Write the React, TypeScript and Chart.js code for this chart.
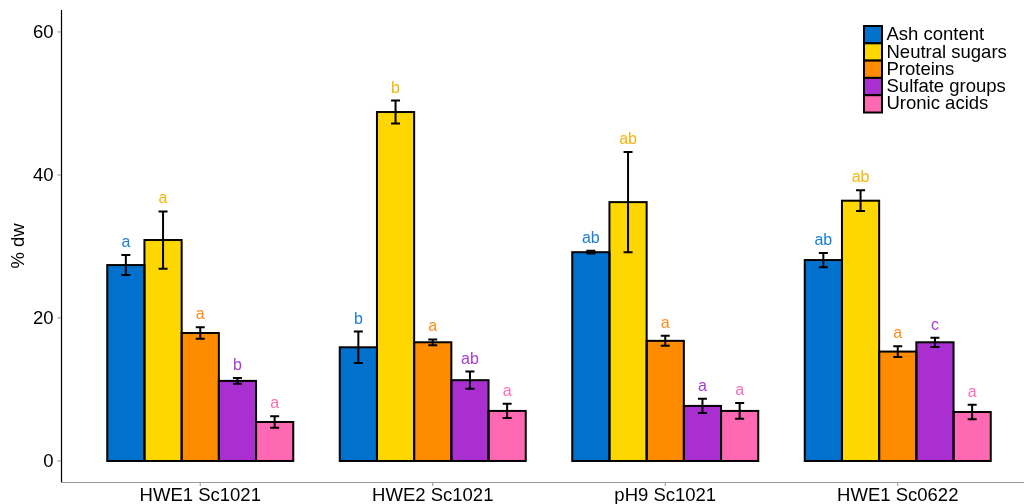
import React, { useEffect, useRef } from "react";
import { Chart, registerables } from "chart.js";

Chart.register(...registerables);

const categories = ["HWE1 Sc1021", "HWE2 Sc1021", "pH9 Sc1021", "HWE1 Sc0622"];
const seriesNames = ["Ash content", "Neutral sugars", "Proteins", "Sulfate groups", "Uronic acids"];

const ashValues = [27.4, 15.9, 29.2, 28.1];
const ashErrors = [1.4, 2.2, 0.2, 1.0];
const ashLetters = ["a", "b", "ab", "ab"];

const neutralValues = [30.9, 48.8, 36.2, 36.4];
const neutralErrors = [4.0, 1.6, 7.0, 1.45];
const neutralLetters = ["a", "b", "ab", "ab"];

const proteinValues = [17.9, 16.6, 16.8, 15.3];
const proteinErrors = [0.8, 0.4, 0.7, 0.75];
const proteinLetters = ["a", "a", "a", "a"];

const sulfateValues = [11.2, 11.3, 7.7, 16.6];
const sulfateErrors = [0.4, 1.2, 1.0, 0.65];
const sulfateLetters = ["b", "ab", "a", "c"];

const uronicValues = [5.45, 7.0, 7.0, 6.85];
const uronicErrors = [0.8, 1.0, 1.1, 1.0];
const uronicLetters = ["a", "a", "a", "a"];

const yTicks = [0, 20, 40, 60];

const barColors = ["#0072CE", "#FFD700", "#FF8C00", "#AA2FD0", "#FF69B4"];
const letterColors = ["#1A7FD8", "#F5B50A", "#FF8C1A", "#A83AD6", "#FF6EB4"];

const FONT = "'Liberation Sans', Arial, Helvetica, sans-serif";

export default function App() {
  const canvasRef = useRef<HTMLCanvasElement | null>(null);

  useEffect(() => {
    const canvas = canvasRef.current;
    if (!canvas) return;

    const values = [ashValues, neutralValues, proteinValues, sulfateValues, uronicValues];
    const errors = [ashErrors, neutralErrors, proteinErrors, sulfateErrors, uronicErrors];
    const letters = [ashLetters, neutralLetters, proteinLetters, sulfateLetters, uronicLetters];

    const overlay = {
      id: "overlay",
      afterDatasetsDraw(chart: any) {
        const ctx = chart.ctx;
        const yScale = chart.scales.y;
        const xScale = chart.scales.x;
        const area = chart.chartArea;
        ctx.save();
        // y axis line
        ctx.strokeStyle = "#000000";
        ctx.lineWidth = 1.2;
        ctx.beginPath();
        ctx.moveTo(61.5, area.top);
        ctx.lineTo(61.5, area.bottom + 0.5);
        ctx.stroke();
        // x axis line
        ctx.strokeStyle = "#9a9a9a";
        ctx.lineWidth = 1.1;
        ctx.beginPath();
        ctx.moveTo(61, area.bottom + 0.5);
        ctx.lineTo(chart.width, area.bottom + 0.5);
        ctx.stroke();
        // y ticks + labels
        ctx.font = `18.5px ${FONT}`;
        ctx.textAlign = "right";
        ctx.textBaseline = "middle";
        yTicks.forEach((t) => {
          const py = yScale.getPixelForValue(t);
          ctx.strokeStyle = "#9a9a9a";
          ctx.beginPath();
          ctx.moveTo(57.5, py);
          ctx.lineTo(61, py);
          ctx.stroke();
          ctx.fillStyle = "#000000";
          ctx.fillText(String(t), 53.5, py + 0.5);
        });
        // x ticks
        ctx.strokeStyle = "#9a9a9a";
        categories.forEach((_c, i) => {
          const px = xScale.getPixelForValue(i);
          ctx.beginPath();
          ctx.moveTo(px, area.bottom + 0.5);
          ctx.lineTo(px, area.bottom + 4);
          ctx.stroke();
        });

        // bar outlines
        ctx.strokeStyle = "#000000";
        ctx.lineWidth = 2;
        chart.data.datasets.forEach((_ds: any, di: number) => {
          const meta = chart.getDatasetMeta(di);
          meta.data.forEach((el: any) => {
            const p = el.getProps(["x", "y", "base", "width"], true);
            ctx.strokeRect(p.x - p.width / 2, p.y, p.width, p.base - p.y);
          });
        });

        // error bars + letters
        chart.data.datasets.forEach((_ds: any, di: number) => {
          const meta = chart.getDatasetMeta(di);
          meta.data.forEach((el: any, i: number) => {
            const p = el.getProps(["x"], true);
            const v = values[di][i];
            const e = errors[di][i];
            const yTop = yScale.getPixelForValue(v + e);
            const yBot = yScale.getPixelForValue(v - e);
            const cap = 4.5;
            ctx.strokeStyle = "#000000";
            ctx.lineWidth = 2;
            ctx.beginPath();
            ctx.moveTo(p.x, yTop);
            ctx.lineTo(p.x, yBot);
            ctx.moveTo(p.x - cap, yTop);
            ctx.lineTo(p.x + cap, yTop);
            ctx.moveTo(p.x - cap, yBot);
            ctx.lineTo(p.x + cap, yBot);
            ctx.stroke();
            ctx.fillStyle = letterColors[di];
            ctx.font = `16px ${FONT}`;
            ctx.textAlign = "center";
            ctx.textBaseline = "alphabetic";
            ctx.fillText(letters[di][i], p.x, yTop - 8);
          });
        });

        // legend
        const bx = 864;
        const by = 26;
        const rh = 17.3;
        const bw = 18;
        seriesNames.forEach((name, i) => {
          const top = by + i * rh;
          ctx.fillStyle = barColors[i];
          ctx.fillRect(bx, top, bw, rh);
          ctx.strokeStyle = "#000000";
          ctx.lineWidth = 2;
          ctx.strokeRect(bx, top, bw, rh);
          ctx.fillStyle = "#000000";
          ctx.font = `18.5px ${FONT}`;
          ctx.textAlign = "left";
          ctx.textBaseline = "middle";
          ctx.fillText(name, 886.5, top + rh / 2 + 0.5);
        });
        ctx.restore();
      },
    };

    const chart = new Chart(canvas, {
      type: "bar",
      data: {
        labels: categories,
        datasets: seriesNames.map((name, i) => ({
          label: name,
          data: values[i],
          backgroundColor: barColors[i],
          borderWidth: 0,
          categoryPercentage: 0.8,
          barPercentage: 1.0,
        })),
      },
      options: {
        responsive: false,
        animation: false,
        layout: { padding: { top: 10, right: 10, bottom: 0, left: 0 } },
        plugins: {
          legend: { display: false },
          tooltip: { enabled: false },
          title: { display: false },
        },
        scales: {
          x: {
            type: "category",
            grid: { display: false, drawTicks: false },
            border: { display: false },
            ticks: {
              color: "#000000",
              font: { family: FONT, size: 18.5 },
              padding: 3,
              maxRotation: 0,
              autoSkip: false,
            },
            afterFit: (scale: any) => {
              scale.height = 22;
            },
          },
          y: {
            type: "linear",
            min: -2.94,
            max: 63.07,
            grid: { display: false, drawTicks: false },
            border: { display: false },
            ticks: { display: false },
            afterBuildTicks: (scale: any) => {
              scale.ticks = yTicks.map((v) => ({ value: v }));
            },
            afterFit: (scale: any) => {
              scale.width = 84;
            },
            title: {
              display: true,
              text: "% dw",
              color: "#000000",
              font: { family: FONT, size: 18.5 },
              padding: { top: 8, bottom: 0 },
            },
          },
        },
      },
      plugins: [overlay],
    } as any);

    return () => {
      chart.destroy();
    };
  }, []);

  return (
    <div style={{ position: "absolute", left: 0, top: 0, width: 1024, height: 504, background: "#ffffff" }}>
      <canvas ref={canvasRef} width={1024} height={504} />
    </div>
  );
}
